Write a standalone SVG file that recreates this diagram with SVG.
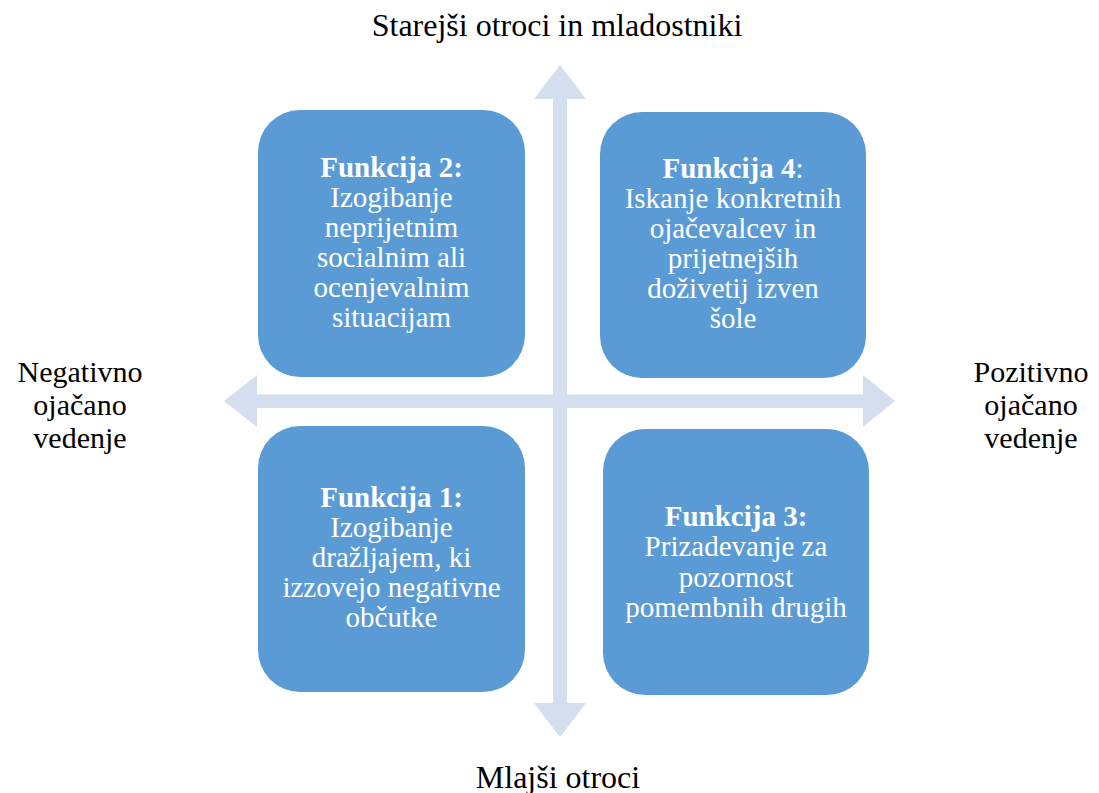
<svg xmlns="http://www.w3.org/2000/svg" width="1099" height="793" viewBox="0 0 1099 793">
<style>
.box{fill:#5B9BD5;}
.arr{fill:#D3DEEF;}
.bt{font-family:"Liberation Serif","Times New Roman",serif;font-size:29px;fill:#FFFFFF;text-anchor:middle;}
.b{font-weight:bold;}
.lab{font-family:"Liberation Serif","Times New Roman",serif;font-size:30px;fill:#000000;text-anchor:middle;}
.ax{font-family:"Liberation Serif","Times New Roman",serif;font-size:32px;fill:#000000;text-anchor:middle;}
</style>
<rect width="1099" height="793" fill="#FFFFFF"/>
<g id="connectors">
<polygon class="arr" points="224,401 257,375 257,394.5 863,394.5 863,375 895,401 863,427 863,408 257,408 257,427"/>
<polygon class="arr" points="560,65 586,99 567,99 567,703 586,703 560,737 534,703 553,703 553,99 534,99"/>
</g>
<g id="node-f2">
<rect class="box" x="258" y="110" width="267" height="267" rx="42"/>
<text class="bt"><tspan class="b" x="391.5" y="177">Funkcija 2:</tspan><tspan x="391.5" y="207">Izogibanje</tspan><tspan x="391.5" y="237">neprijetnim</tspan><tspan x="391.5" y="267">socialnim ali</tspan><tspan x="391.5" y="297">ocenjevalnim</tspan><tspan x="391.5" y="327">situacijam</tspan></text>
</g>
<g id="node-f4">
<rect class="box" x="600" y="112" width="266" height="266" rx="42"/>
<text class="bt"><tspan x="733" y="178"><tspan class="b">Funkcija 4</tspan>:</tspan><tspan x="733" y="208">Iskanje konkretnih</tspan><tspan x="733" y="238">ojačevalcev in</tspan><tspan x="733" y="268">prijetnejših</tspan><tspan x="733" y="298">doživetij izven</tspan><tspan x="733" y="328">šole</tspan></text>
</g>
<g id="node-f1">
<rect class="box" x="258" y="426" width="267" height="266" rx="42"/>
<text class="bt"><tspan class="b" x="391.5" y="507">Funkcija 1:</tspan><tspan x="391.5" y="537">Izogibanje</tspan><tspan x="391.5" y="567">dražljajem, ki</tspan><tspan x="391.5" y="597">izzovejo negativne</tspan><tspan x="391.5" y="627">občutke</tspan></text>
</g>
<g id="node-f3">
<rect class="box" x="603" y="429" width="266" height="266" rx="42"/>
<text class="bt"><tspan class="b" x="736" y="526">Funkcija 3:</tspan><tspan x="736" y="556">Prizadevanje za</tspan><tspan x="736" y="587">pozornost</tspan><tspan x="736" y="617">pomembnih drugih</tspan></text>
</g>
<g id="label-top"><text class="ax" x="557" y="36">Starejši otroci in mladostniki</text></g>
<g id="label-bottom"><text class="ax" x="558" y="788">Mlajši otroci</text></g>
<g id="label-left"><text class="lab"><tspan x="80" y="382">Negativno</tspan><tspan x="80" y="415">ojačano</tspan><tspan x="80" y="448">vedenje</tspan></text></g>
<g id="label-right"><text class="lab"><tspan x="1031" y="382">Pozitivno</tspan><tspan x="1031" y="415">ojačano</tspan><tspan x="1031" y="448">vedenje</tspan></text></g>
</svg>
